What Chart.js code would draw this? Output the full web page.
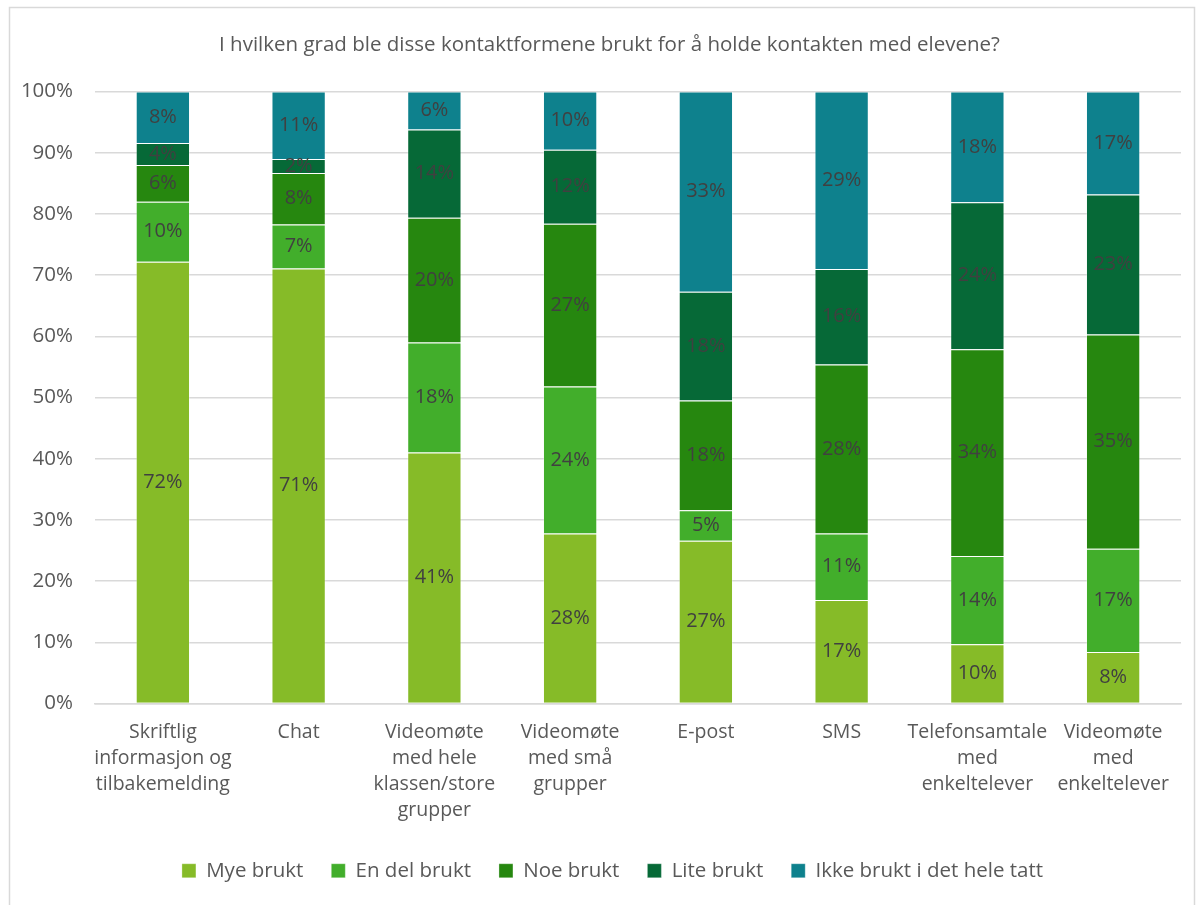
<!DOCTYPE html>
<html>
<head>
<meta charset="utf-8">
<script src="https://cdn.jsdelivr.net/npm/chart.js@4"></script>
<style>
    html, body { margin: 0; padding: 0; background: #fff; }
    #wrap { width: 1202px; height: 905px; position: relative; }
</style>
</head>
<body>
<div id="wrap"><canvas id="chart" width="1202" height="905"></canvas></div>
<script>
const categories = [
    ['Skriftlig', 'informasjon og', 'tilbakemelding'],
    ['Chat'],
    ['Videomøte', 'med hele', 'klassen/store', 'grupper'],
    ['Videomøte', 'med små', 'grupper'],
    ['E-post'],
    ['SMS'],
    ['Telefonsamtale', 'med', 'enkeltelever'],
    ['Videomøte', 'med', 'enkeltelever']
];

const seriesNames = ['Mye brukt', 'En del brukt', 'Noe brukt', 'Lite brukt', 'Ikke brukt i det hele tatt'];

const myeBrukt   = [72.2, 71.1, 41.0, 27.8, 26.6, 16.9, 9.7, 8.4];
const enDelBrukt = [9.8, 7.2, 18.0, 24.0, 5.0, 10.9, 14.4, 16.9];
const noeBrukt   = [6.0, 8.4, 20.4, 26.6, 17.9, 27.6, 33.8, 35.0];
const liteBrukt  = [3.6, 2.3, 14.4, 12.1, 17.8, 15.6, 24.0, 22.9];
const ikkeBrukt  = [8.4, 11.0, 6.2, 9.5, 32.7, 29.0, 18.1, 16.8];

const yTicks = [0, 10, 20, 30, 40, 50, 60, 70, 80, 90, 100];

const colors = ['#86bb28', '#42ae2b', '#26870f', '#066937', '#0e818d'];
const FONT = "'Open Sans', sans-serif";

// frame around the whole chart
const framePlugin = {
    id: 'frame',
    beforeDraw(chart) {
        const ctx = chart.ctx;
        ctx.save();
        ctx.strokeStyle = '#d9d9d9';
        ctx.lineWidth = 1.5;
        ctx.strokeRect(9.5, 7.5, 1185, 905);
        ctx.restore();
    }
};

// nudge legend and title a bit to the right, like the original
const blockShift = {
    id: 'blockShift',
    afterLayout(chart) {
        chart.legend.left += 17;
        chart.legend.right += 17;
        chart.titleBlock.left += 14;
        chart.titleBlock.right += 14;
    }
};

// percentage labels centred in each segment
const segmentLabels = {
    id: 'segmentLabels',
    afterDatasetsDraw(chart) {
        const ctx = chart.ctx;
        ctx.save();
        ctx.font = '20px ' + FONT;
        ctx.fillStyle = '#404040';
        ctx.textAlign = 'center';
        ctx.textBaseline = 'middle';
        chart.data.datasets.forEach((ds, i) => {
            const meta = chart.getDatasetMeta(i);
            meta.data.forEach((bar, j) => {
                const v = ds.data[j];
                const y = (bar.y + bar.base) / 2;
                ctx.fillText(Math.round(v) + '%', bar.x, y);
            });
        });
        ctx.restore();
    }
};

const allSeries = [myeBrukt, enDelBrukt, noeBrukt, liteBrukt, ikkeBrukt];

new Chart(document.getElementById('chart'), {
    type: 'bar',
    data: {
        labels: categories,
        datasets: allSeries.map((d, i) => ({
            label: seriesNames[i],
            data: d,
            backgroundColor: colors[i],
            borderColor: 'rgba(255,255,255,0.3)',
            borderWidth: 1,
            barPercentage: 0.4,
            categoryPercentage: 1
        }))
    },
    plugins: [framePlugin, blockShift, segmentLabels],
    options: {
        responsive: false,
        animation: false,
        layout: { padding: { left: 10, right: 21, top: 0, bottom: 14 } },
        plugins: {
            title: {
                display: true,
                text: 'I hvilken grad ble disse kontaktformene brukt for å holde kontakten med elevene?',
                color: '#595959',
                font: { family: FONT, size: 20.5, weight: 'normal' },
                padding: { top: 33, bottom: 34 }
            },
            legend: {
                position: 'bottom',
                labels: {
                    color: '#595959',
                    font: { family: FONT, size: 20.5 },
                    boxWidth: 14,
                    boxHeight: 14,
                    padding: 28
                }
            },
            tooltip: { enabled: false }
        },
        scales: {
            x: {
                stacked: true,
                grid: { display: false },
                border: { color: '#d9d9d9', width: 1.5 },
                ticks: {
                    color: '#595959',
                    font: { family: FONT, size: 19.5, lineHeight: 1.33 },
                    padding: 8,
                    maxRotation: 0,
                    autoSkip: false
                },
                afterFit(scale) { scale.height = 129; }
            },
            y: {
                stacked: true,
                min: 0,
                max: 100,
                afterBuildTicks(scale) { scale.ticks = yTicks.map(v => ({ value: v })); },
                grid: { color: '#d9d9d9', lineWidth: 1.5, drawTicks: false },
                border: { display: false },
                ticks: {
                    color: '#595959',
                    font: { family: FONT, size: 20.5 },
                    padding: 22,
                    callback: v => v + '%'
                },
                afterFit(scale) { scale.width = 85; }
            }
        }
    }
});
</script>
</body>
</html>
